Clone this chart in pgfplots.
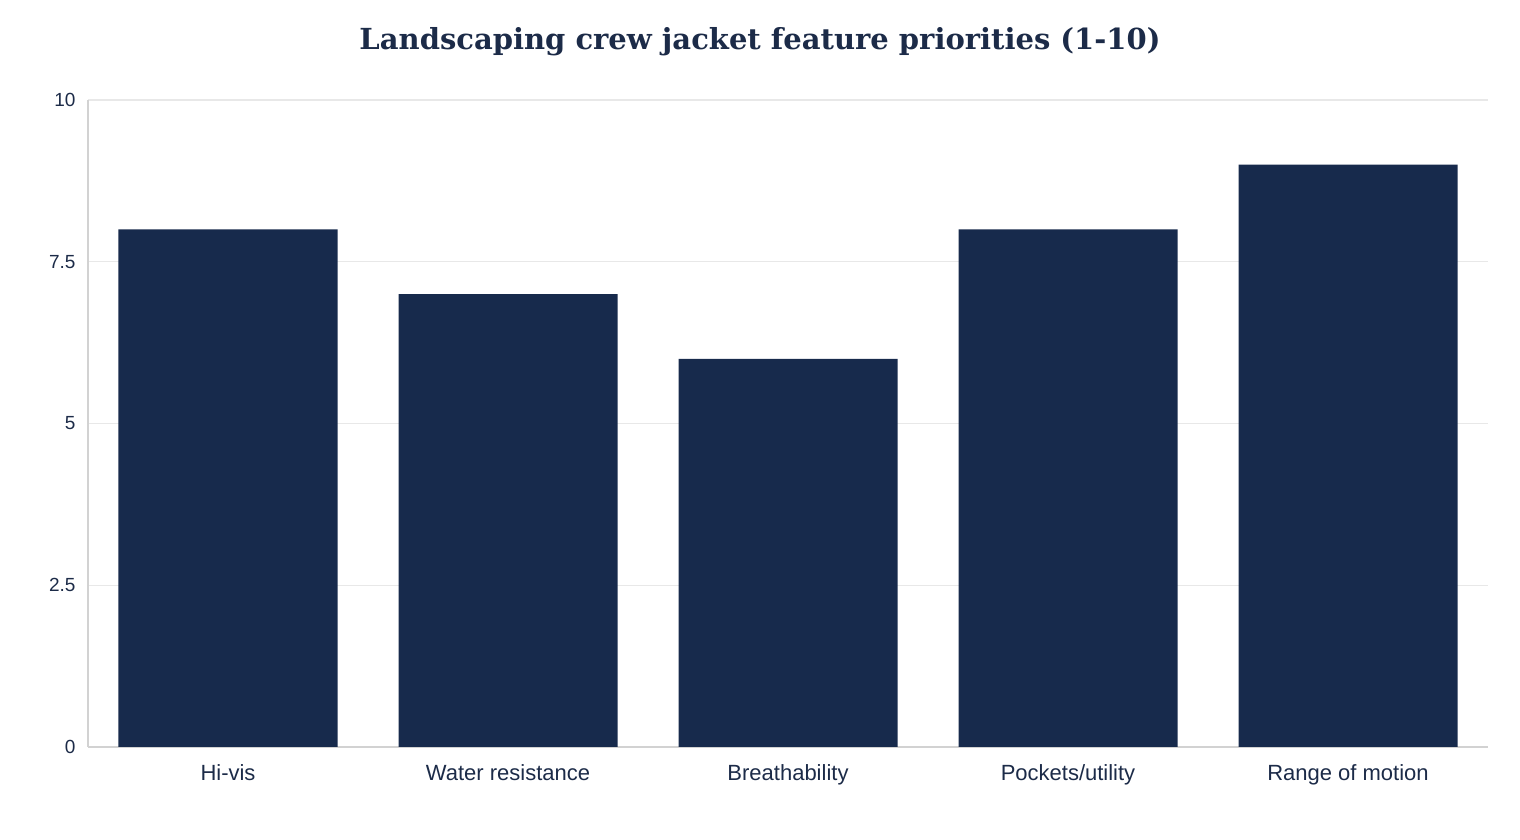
\documentclass[border=0pt]{standalone}
\usepackage{pgfplots}
\pgfplotsset{compat=1.18}
\usepackage{fontspec}
\setmainfont{Liberation Sans}
\newfontfamily\titlefont{DejaVu Serif}
\definecolor{barnavy}{HTML}{172A4C}
\definecolor{textnavy}{HTML}{1C2B48}
\definecolor{gridgray}{HTML}{E8E8E8}
\definecolor{axisgray}{HTML}{D2D2D2}
\begin{document}
\begin{tikzpicture}[x=1pt,y=1pt]
\path[use as bounding box] (-88,-93) rectangle (1432,747);
\begin{axis}[
  at={(0,0)}, anchor=south west,
  scale only axis,
  width=1400pt, height=647pt,
  xmin=-0.5, xmax=4.5,
  ymin=0, ymax=10,
  xtick={0,1,2,3,4},
  xticklabels={Hi-vis,Water resistance,Breathability,Pockets/utility,Range of motion},
  ytick={0,2.5,5,7.5,10},
  yticklabels={0,2.5,5,7.5,10},
  major tick length=0pt,
  ymajorgrids,
  grid style={gridgray, line width=1.2pt},
  axis line style={axisgray, line width=1.6pt},
  axis x line*=bottom,
  axis y line*=left,
  xticklabel style={font=\fontsize{22}{26}\selectfont, text=textnavy, yshift=-14pt},
  yticklabel style={font=\fontsize{19}{22}\selectfont, text=textnavy, xshift=-9pt},
  /pgf/number format/assume math mode=true,
  clip=false,
]
\addplot[ybar, bar width=219pt, fill=barnavy, draw=none]
  coordinates {(0,8) (1,7) (2,6) (3,8) (4,9)};
\end{axis}
\node[text=textnavy, font=\titlefont\bfseries\fontsize{29}{34}\selectfont] at (672,705)
  {Landscaping crew jacket feature priorities (1-10)};
\end{tikzpicture}
\end{document}
